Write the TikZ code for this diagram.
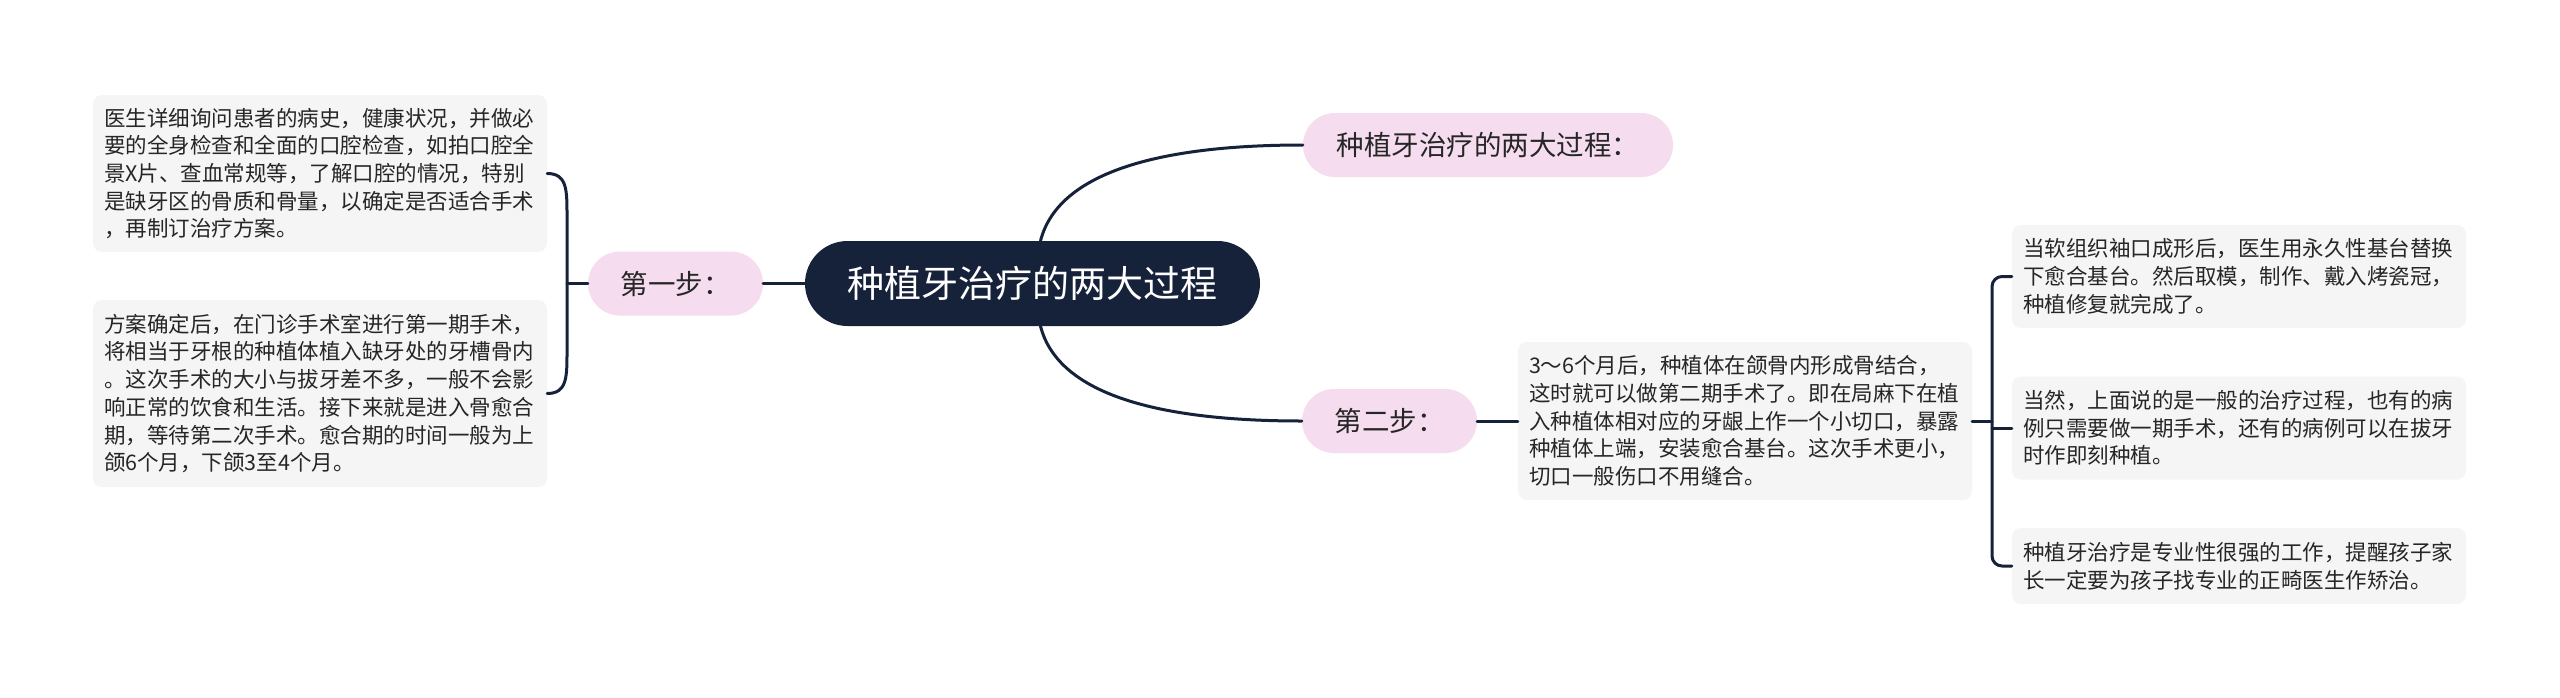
\documentclass[tikz,border=0pt]{standalone}
\usepackage{fontspec}
\setmainfont{Noto Sans CJK SC}
\usetikzlibrary{shapes.misc}
\definecolor{navy}{HTML}{16213A}
\definecolor{linec}{HTML}{16213A}
\definecolor{pinkf}{HTML}{F6DCEF}
\definecolor{boxf}{HTML}{F5F5F5}
\definecolor{txt}{HTML}{262626}
\begin{document}
\begin{tikzpicture}[x=1pt,y=-1pt,
  rootbox/.style={rounded rectangle, fill=navy, text=white, minimum width=455pt, minimum height=85pt, inner sep=0pt, font=\fontsize{37}{44}\selectfont},
  pinkbox/.style={rounded rectangle, fill=pinkf, text=txt, minimum height=64pt, inner sep=0pt, font=\fontsize{27.5}{33}\selectfont},
  textbox/.style={rectangle, rounded corners=9pt, fill=boxf, text=txt, text width=432pt, inner xsep=11pt, inner ysep=0pt, align=left, font=\fontsize{21.5}{27.7}\selectfont},
  conn/.style={draw=linec, line width=3pt, line cap=round}
]
\useasboundingbox (0,0) rectangle (2560,697);
\fill[white] (0,0) rectangle (2560,697);

\node[rootbox] (root) at (1032.5,283.5) {种植牙治疗的两大过程};
\node[pinkbox, minimum width=370pt] (top) at (1488,145) {种植牙治疗的两大过程：};
\node[pinkbox, minimum width=175pt] (s1) at (675.5,283.5) {第一步：};
\node[pinkbox, minimum width=175pt] (s2) at (1389.5,421) {第二步：};

\node[textbox, minimum height=157pt] (l1) at (320,173.5) {医生详细询问患者的病史，健康状况，并做必\\要的全身检查和全面的口腔检查，如拍口腔全\\景X片、查血常规等，了解口腔的情况，特别\\是缺牙区的骨质和骨量，以确定是否适合手术\\，再制订治疗方案。};
\node[textbox, minimum height=187pt] (l2) at (320,393.5) {方案确定后，在门诊手术室进行第一期手术，\\将相当于牙根的种植体植入缺牙处的牙槽骨内\\。这次手术的大小与拔牙差不多，一般不会影\\响正常的饮食和生活。接下来就是进入骨愈合\\期，等待第二次手术。愈合期的时间一般为上\\颌6个月，下颌3至4个月。};
\node[textbox, minimum height=158pt] (m) at (1745,421) {3～6个月后，种植体在颌骨内形成骨结合，\\这时就可以做第二期手术了。即在局麻下在植\\入种植体相对应的牙龈上作一个小切口，暴露\\种植体上端，安装愈合基台。这次手术更小，\\切口一般伤口不用缝合。};
\node[textbox, minimum height=103pt] (r1) at (2239,276.5) {当软组织袖口成形后，医生用永久性基台替换\\下愈合基台。然后取模，制作、戴入烤瓷冠，\\种植修复就完成了。};
\node[textbox, minimum height=103pt] (r2) at (2239,428) {当然，上面说的是一般的治疗过程，也有的病\\例只需要做一期手术，还有的病例可以在拔牙\\时作即刻种植。};
\node[textbox, minimum height=76pt] (r3) at (2239,566) {种植牙治疗是专业性很强的工作，提醒孩子家\\长一定要为孩子找专业的正畸医生作矫治。};

\draw[conn] ([xshift=8pt]root.north) .. controls (1060,165) and (1180,145) .. (top.west);
\draw[conn] ([xshift=8pt]root.south) .. controls (1060,402) and (1180,421) .. (s2.west);
\draw[conn] (s1.east) -- (root.west);
\draw[conn] (s2.east) -- (m.west);
\draw[conn] (l1.east) .. controls (567,173.5) and (567,190) .. (567,215) -- (567,352) .. controls (567,377) and (567,393.5) .. (l2.east);
\draw[conn] (s1.west) -- (567,283.5);
\draw[conn, rounded corners=10pt] (r1.west) -- (1992,276.5) -- (1992,566) -- (r3.west);
\draw[conn] (m.east) -- (1992,421);
\draw[conn] (1992,428) -- (r2.west);
\end{tikzpicture}
\end{document}
